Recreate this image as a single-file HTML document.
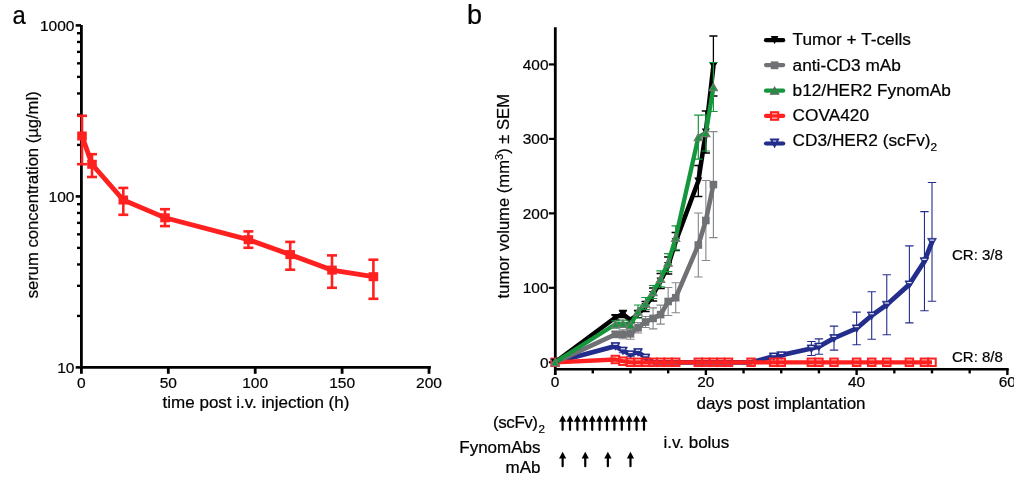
<!DOCTYPE html>
<html><head><meta charset="utf-8"><style>
html,body{margin:0;padding:0;background:#fff;}
body{width:1024px;height:479px;overflow:hidden;font-family:"Liberation Sans",sans-serif;}
svg{display:block;will-change:transform;}
.clip{position:absolute;left:1014.3px;top:360px;width:20px;height:40px;background:#fff;}
</style></head><body>
<svg width="1024" height="479" viewBox="0 0 1024 479"><text transform="translate(12.6,24.1) scale(0.9,1)" font-size="26.5" font-family="Liberation Sans, sans-serif" stroke="#000" stroke-width="0.22">a</text>
<line x1="81.4" y1="25" x2="81.4" y2="368.8" stroke="#000" stroke-width="2.8"/>
<line x1="80" y1="367.4" x2="430.9" y2="367.4" stroke="#000" stroke-width="2.8"/>
<line x1="75.7" y1="367.40" x2="81" y2="367.40" stroke="#000" stroke-width="2.6"/>
<line x1="75.7" y1="196.40" x2="81" y2="196.40" stroke="#000" stroke-width="2.6"/>
<line x1="75.7" y1="25.40" x2="81" y2="25.40" stroke="#000" stroke-width="2.6"/>
<line x1="77" y1="315.92" x2="81" y2="315.92" stroke="#000" stroke-width="2.4"/>
<line x1="77" y1="285.81" x2="81" y2="285.81" stroke="#000" stroke-width="2.4"/>
<line x1="77" y1="264.45" x2="81" y2="264.45" stroke="#000" stroke-width="2.4"/>
<line x1="77" y1="247.88" x2="81" y2="247.88" stroke="#000" stroke-width="2.4"/>
<line x1="77" y1="234.34" x2="81" y2="234.34" stroke="#000" stroke-width="2.4"/>
<line x1="77" y1="222.89" x2="81" y2="222.89" stroke="#000" stroke-width="2.4"/>
<line x1="77" y1="212.97" x2="81" y2="212.97" stroke="#000" stroke-width="2.4"/>
<line x1="77" y1="204.22" x2="81" y2="204.22" stroke="#000" stroke-width="2.4"/>
<line x1="77" y1="144.92" x2="81" y2="144.92" stroke="#000" stroke-width="2.4"/>
<line x1="77" y1="114.81" x2="81" y2="114.81" stroke="#000" stroke-width="2.4"/>
<line x1="77" y1="93.45" x2="81" y2="93.45" stroke="#000" stroke-width="2.4"/>
<line x1="77" y1="76.88" x2="81" y2="76.88" stroke="#000" stroke-width="2.4"/>
<line x1="77" y1="63.34" x2="81" y2="63.34" stroke="#000" stroke-width="2.4"/>
<line x1="77" y1="51.89" x2="81" y2="51.89" stroke="#000" stroke-width="2.4"/>
<line x1="77" y1="41.97" x2="81" y2="41.97" stroke="#000" stroke-width="2.4"/>
<line x1="77" y1="33.22" x2="81" y2="33.22" stroke="#000" stroke-width="2.4"/>
<text x="74.4" y="30.90" font-size="15.5" text-anchor="end" font-family="Liberation Sans, sans-serif" stroke="#000" stroke-width="0.22">1000</text>
<text x="74.4" y="201.90" font-size="15.5" text-anchor="end" font-family="Liberation Sans, sans-serif" stroke="#000" stroke-width="0.22">100</text>
<text x="74.4" y="372.90" font-size="15.5" text-anchor="end" font-family="Liberation Sans, sans-serif" stroke="#000" stroke-width="0.22">10</text>
<line x1="81.40" y1="366" x2="81.40" y2="373.8" stroke="#000" stroke-width="2.8"/>
<text x="81.40" y="388.1" font-size="15.5" text-anchor="middle" font-family="Liberation Sans, sans-serif" stroke="#000" stroke-width="0.22">0</text>
<line x1="168.30" y1="366" x2="168.30" y2="373.8" stroke="#000" stroke-width="2.8"/>
<text x="168.30" y="388.1" font-size="15.5" text-anchor="middle" font-family="Liberation Sans, sans-serif" stroke="#000" stroke-width="0.22">50</text>
<line x1="255.20" y1="366" x2="255.20" y2="373.8" stroke="#000" stroke-width="2.8"/>
<text x="255.20" y="388.1" font-size="15.5" text-anchor="middle" font-family="Liberation Sans, sans-serif" stroke="#000" stroke-width="0.22">100</text>
<line x1="342.10" y1="366" x2="342.10" y2="373.8" stroke="#000" stroke-width="2.8"/>
<text x="342.10" y="388.1" font-size="15.5" text-anchor="middle" font-family="Liberation Sans, sans-serif" stroke="#000" stroke-width="0.22">150</text>
<line x1="429.00" y1="366" x2="429.00" y2="373.8" stroke="#000" stroke-width="2.8"/>
<text x="429.00" y="388.1" font-size="15.5" text-anchor="middle" font-family="Liberation Sans, sans-serif" stroke="#000" stroke-width="0.22">200</text>
<text x="256" y="408.0" font-size="17" text-anchor="middle" font-family="Liberation Sans, sans-serif" stroke="#000" stroke-width="0.22">time post i.v. injection (h)</text>
<text transform="translate(37.6,194.8) rotate(-90)" font-size="16.6" text-anchor="middle" font-family="Liberation Sans, sans-serif" stroke="#000" stroke-width="0.22">serum concentration (µg/ml)</text>
<line x1="82" y1="115.8" x2="82" y2="164.2" stroke="#ff2020" stroke-width="2.6"/>
<line x1="77" y1="115.8" x2="87" y2="115.8" stroke="#ff2020" stroke-width="2.6"/>
<line x1="77" y1="164.2" x2="87" y2="164.2" stroke="#ff2020" stroke-width="2.6"/>
<line x1="92" y1="154.2" x2="92" y2="177" stroke="#ff2020" stroke-width="2.6"/>
<line x1="87" y1="154.2" x2="97" y2="154.2" stroke="#ff2020" stroke-width="2.6"/>
<line x1="87" y1="177" x2="97" y2="177" stroke="#ff2020" stroke-width="2.6"/>
<line x1="123.3" y1="187.9" x2="123.3" y2="214.8" stroke="#ff2020" stroke-width="2.6"/>
<line x1="118.3" y1="187.9" x2="128.3" y2="187.9" stroke="#ff2020" stroke-width="2.6"/>
<line x1="118.3" y1="214.8" x2="128.3" y2="214.8" stroke="#ff2020" stroke-width="2.6"/>
<line x1="165" y1="209.2" x2="165" y2="226.1" stroke="#ff2020" stroke-width="2.6"/>
<line x1="160" y1="209.2" x2="170" y2="209.2" stroke="#ff2020" stroke-width="2.6"/>
<line x1="160" y1="226.1" x2="170" y2="226.1" stroke="#ff2020" stroke-width="2.6"/>
<line x1="248.4" y1="231.4" x2="248.4" y2="247.8" stroke="#ff2020" stroke-width="2.6"/>
<line x1="243.4" y1="231.4" x2="253.4" y2="231.4" stroke="#ff2020" stroke-width="2.6"/>
<line x1="243.4" y1="247.8" x2="253.4" y2="247.8" stroke="#ff2020" stroke-width="2.6"/>
<line x1="290.2" y1="241.9" x2="290.2" y2="269.7" stroke="#ff2020" stroke-width="2.6"/>
<line x1="285.2" y1="241.9" x2="295.2" y2="241.9" stroke="#ff2020" stroke-width="2.6"/>
<line x1="285.2" y1="269.7" x2="295.2" y2="269.7" stroke="#ff2020" stroke-width="2.6"/>
<line x1="332" y1="255.4" x2="332" y2="287.8" stroke="#ff2020" stroke-width="2.6"/>
<line x1="327" y1="255.4" x2="337" y2="255.4" stroke="#ff2020" stroke-width="2.6"/>
<line x1="327" y1="287.8" x2="337" y2="287.8" stroke="#ff2020" stroke-width="2.6"/>
<line x1="373.4" y1="259.7" x2="373.4" y2="298.8" stroke="#ff2020" stroke-width="2.6"/>
<line x1="368.4" y1="259.7" x2="378.4" y2="259.7" stroke="#ff2020" stroke-width="2.6"/>
<line x1="368.4" y1="298.8" x2="378.4" y2="298.8" stroke="#ff2020" stroke-width="2.6"/>
<polyline points="82,136 92,164.3 123.3,200 165,217.8 248.4,239.7 290.2,254.6 332,270.1 373.4,276.7" fill="none" stroke="#ff2020" stroke-width="4.9" stroke-linejoin="miter"/>
<rect x="77.2" y="131.5" width="9.6" height="9" fill="#ff2020"/>
<rect x="87.2" y="159.8" width="9.6" height="9" fill="#ff2020"/>
<rect x="118.5" y="195.5" width="9.6" height="9" fill="#ff2020"/>
<rect x="160.2" y="213.3" width="9.6" height="9" fill="#ff2020"/>
<rect x="243.6" y="235.2" width="9.6" height="9" fill="#ff2020"/>
<rect x="285.4" y="250.1" width="9.6" height="9" fill="#ff2020"/>
<rect x="327.2" y="265.6" width="9.6" height="9" fill="#ff2020"/>
<rect x="368.59999999999997" y="272.2" width="9.6" height="9" fill="#ff2020"/>
<text x="467" y="24.2" font-size="27" font-family="Liberation Sans, sans-serif" stroke="#000" stroke-width="0.22">b</text>
<line x1="555.3" y1="27.3" x2="555.3" y2="375" stroke="#000" stroke-width="2.8"/>
<line x1="554" y1="369.3" x2="1008.7" y2="369.3" stroke="#000" stroke-width="2.4"/>
<line x1="548.8" y1="362.30" x2="555" y2="362.30" stroke="#000" stroke-width="2.2"/>
<text x="548.5" y="367.80" font-size="15.4" text-anchor="end" font-family="Liberation Sans, sans-serif" stroke="#000" stroke-width="0.22">0</text>
<line x1="548.8" y1="287.83" x2="555" y2="287.83" stroke="#000" stroke-width="2.2"/>
<text x="548.5" y="293.33" font-size="15.4" text-anchor="end" font-family="Liberation Sans, sans-serif" stroke="#000" stroke-width="0.22">100</text>
<line x1="548.8" y1="213.36" x2="555" y2="213.36" stroke="#000" stroke-width="2.2"/>
<text x="548.5" y="218.86" font-size="15.4" text-anchor="end" font-family="Liberation Sans, sans-serif" stroke="#000" stroke-width="0.22">200</text>
<line x1="548.8" y1="138.89" x2="555" y2="138.89" stroke="#000" stroke-width="2.2"/>
<text x="548.5" y="144.39" font-size="15.4" text-anchor="end" font-family="Liberation Sans, sans-serif" stroke="#000" stroke-width="0.22">300</text>
<line x1="548.8" y1="64.42" x2="555" y2="64.42" stroke="#000" stroke-width="2.2"/>
<text x="548.5" y="69.92" font-size="15.4" text-anchor="end" font-family="Liberation Sans, sans-serif" stroke="#000" stroke-width="0.22">400</text>
<line x1="592.79" y1="369" x2="592.79" y2="373.4" stroke="#000" stroke-width="2.4"/>
<line x1="630.48" y1="369" x2="630.48" y2="373.4" stroke="#000" stroke-width="2.4"/>
<line x1="668.17" y1="369" x2="668.17" y2="373.4" stroke="#000" stroke-width="2.4"/>
<line x1="705.86" y1="369" x2="705.86" y2="375" stroke="#000" stroke-width="2.4"/>
<text x="705.86" y="387.1" font-size="15.4" text-anchor="middle" font-family="Liberation Sans, sans-serif" stroke="#000" stroke-width="0.22">20</text>
<line x1="743.55" y1="369" x2="743.55" y2="373.4" stroke="#000" stroke-width="2.4"/>
<line x1="781.24" y1="369" x2="781.24" y2="373.4" stroke="#000" stroke-width="2.4"/>
<line x1="818.93" y1="369" x2="818.93" y2="373.4" stroke="#000" stroke-width="2.4"/>
<line x1="856.62" y1="369" x2="856.62" y2="375" stroke="#000" stroke-width="2.4"/>
<text x="856.62" y="387.1" font-size="15.4" text-anchor="middle" font-family="Liberation Sans, sans-serif" stroke="#000" stroke-width="0.22">40</text>
<line x1="894.31" y1="369" x2="894.31" y2="373.4" stroke="#000" stroke-width="2.4"/>
<line x1="932.00" y1="369" x2="932.00" y2="373.4" stroke="#000" stroke-width="2.4"/>
<line x1="969.69" y1="369" x2="969.69" y2="373.4" stroke="#000" stroke-width="2.4"/>
<line x1="1007.38" y1="369" x2="1007.38" y2="375" stroke="#000" stroke-width="2.4"/>
<text x="1007.38" y="387.1" font-size="15.4" text-anchor="middle" font-family="Liberation Sans, sans-serif" stroke="#000" stroke-width="0.22">60</text>
<text x="555.10" y="387.1" font-size="15.4" text-anchor="middle" font-family="Liberation Sans, sans-serif" stroke="#000" stroke-width="0.22">0</text>
<text x="781" y="408.9" font-size="17" text-anchor="middle" font-family="Liberation Sans, sans-serif" stroke="#000" stroke-width="0.22">days post implantation</text>
<text transform="translate(509.3,196.2) rotate(-90)" font-size="16.62" text-anchor="middle" font-family="Liberation Sans, sans-serif" stroke="#000" stroke-width="0.22">tumor volume (mm<tspan font-size="11" dy="-6">3</tspan><tspan dy="6">) ± SEM</tspan></text>
<text x="952" y="259.8" font-size="15" font-family="Liberation Sans, sans-serif" stroke="#000" stroke-width="0.22">CR: 3/8</text>
<text x="952" y="361.7" font-size="15" font-family="Liberation Sans, sans-serif" stroke="#000" stroke-width="0.22">CR: 8/8</text>
<path d="M615.40,343.90V348.30M611.20,343.90h8.4M611.20,348.30h8.4" stroke="#232d8c" stroke-width="1.1" fill="none"/>
<path d="M622.94,348.40V352.80M618.74,348.40h8.4M618.74,352.80h8.4" stroke="#232d8c" stroke-width="1.1" fill="none"/>
<path d="M630.48,352.30V356.30M626.28,352.30h8.4M626.28,356.30h8.4" stroke="#232d8c" stroke-width="1.1" fill="none"/>
<path d="M638.02,349.90V354.30M633.82,349.90h8.4M633.82,354.30h8.4" stroke="#232d8c" stroke-width="1.1" fill="none"/>
<path d="M645.56,356.00V359.00M641.36,356.00h8.4M641.36,359.00h8.4" stroke="#232d8c" stroke-width="1.1" fill="none"/>
<path d="M773.70,354.90V357.90M769.50,354.90h8.4M769.50,357.90h8.4" stroke="#232d8c" stroke-width="1.1" fill="none"/>
<path d="M781.24,353.70V356.70M777.04,353.70h8.4M777.04,356.70h8.4" stroke="#232d8c" stroke-width="1.1" fill="none"/>
<path d="M811.39,341.50V355.50M807.19,341.50h8.4M807.19,355.50h8.4" stroke="#232d8c" stroke-width="1.1" fill="none"/>
<path d="M818.93,338.90V354.30M814.73,338.90h8.4M814.73,354.30h8.4" stroke="#232d8c" stroke-width="1.1" fill="none"/>
<path d="M834.01,326.10V350.10M829.81,326.10h8.4M829.81,350.10h8.4" stroke="#232d8c" stroke-width="1.1" fill="none"/>
<path d="M856.62,312.10V344.70M852.42,312.10h8.4M852.42,344.70h8.4" stroke="#232d8c" stroke-width="1.1" fill="none"/>
<path d="M871.70,291.80V339.20M867.50,291.80h8.4M867.50,339.20h8.4" stroke="#232d8c" stroke-width="1.1" fill="none"/>
<path d="M886.77,274.80V334.80M882.57,274.80h8.4M882.57,334.80h8.4" stroke="#232d8c" stroke-width="1.1" fill="none"/>
<path d="M909.39,245.90V322.90M905.19,245.90h8.4M905.19,322.90h8.4" stroke="#232d8c" stroke-width="1.1" fill="none"/>
<path d="M924.46,211.60V310.80M920.26,211.60h8.4M920.26,310.80h8.4" stroke="#232d8c" stroke-width="1.1" fill="none"/>
<path d="M932.00,182.50V301.30M927.80,182.50h8.4M927.80,301.30h8.4" stroke="#232d8c" stroke-width="1.1" fill="none"/>
<polyline points="555.10,362.30 615.40,346.10 622.94,350.60 630.48,354.30 638.02,352.10 645.56,357.50 653.09,362.30 660.63,362.30 668.17,362.30 675.71,362.30 698.32,362.30 705.86,362.30 713.40,362.30 720.94,362.30 728.47,362.30 751.09,362.30 773.70,356.40 781.24,355.20 811.39,348.50 818.93,346.60 834.01,338.10 856.62,328.40 871.70,315.50 886.77,304.80 909.39,284.40 924.46,261.20 932.00,241.90" fill="none" stroke="#232d8c" stroke-width="4.8" stroke-linejoin="round"/>
<path d="M550.70,358.79H559.50L555.10,366.41Z" fill="#232d8c" stroke="#232d8c" stroke-width="0.8"/>
<rect x="552.90" y="359.90" width="4.4" height="1.2" fill="#e8e8f4"/>
<path d="M611.00,342.59H619.80L615.40,350.21Z" fill="#232d8c" stroke="#232d8c" stroke-width="0.8"/>
<rect x="613.20" y="343.70" width="4.4" height="1.2" fill="#e8e8f4"/>
<path d="M618.54,347.09H627.34L622.94,354.71Z" fill="#232d8c" stroke="#232d8c" stroke-width="0.8"/>
<rect x="620.74" y="348.20" width="4.4" height="1.2" fill="#e8e8f4"/>
<path d="M626.08,350.79H634.88L630.48,358.41Z" fill="#232d8c" stroke="#232d8c" stroke-width="0.8"/>
<rect x="628.28" y="351.90" width="4.4" height="1.2" fill="#e8e8f4"/>
<path d="M633.62,348.59H642.42L638.02,356.21Z" fill="#232d8c" stroke="#232d8c" stroke-width="0.8"/>
<rect x="635.82" y="349.70" width="4.4" height="1.2" fill="#e8e8f4"/>
<path d="M641.16,353.99H649.96L645.56,361.61Z" fill="#232d8c" stroke="#232d8c" stroke-width="0.8"/>
<rect x="643.36" y="355.10" width="4.4" height="1.2" fill="#e8e8f4"/>
<path d="M769.30,352.89H778.10L773.70,360.51Z" fill="#232d8c" stroke="#232d8c" stroke-width="0.8"/>
<rect x="771.50" y="354.00" width="4.4" height="1.2" fill="#e8e8f4"/>
<path d="M776.84,351.69H785.64L781.24,359.31Z" fill="#232d8c" stroke="#232d8c" stroke-width="0.8"/>
<rect x="779.04" y="352.80" width="4.4" height="1.2" fill="#e8e8f4"/>
<path d="M806.99,344.99H815.79L811.39,352.61Z" fill="#232d8c" stroke="#232d8c" stroke-width="0.8"/>
<rect x="809.19" y="346.10" width="4.4" height="1.2" fill="#e8e8f4"/>
<path d="M814.53,343.09H823.33L818.93,350.71Z" fill="#232d8c" stroke="#232d8c" stroke-width="0.8"/>
<rect x="816.73" y="344.20" width="4.4" height="1.2" fill="#e8e8f4"/>
<path d="M829.61,334.59H838.41L834.01,342.21Z" fill="#232d8c" stroke="#232d8c" stroke-width="0.8"/>
<rect x="831.81" y="335.70" width="4.4" height="1.2" fill="#e8e8f4"/>
<path d="M852.22,324.89H861.02L856.62,332.51Z" fill="#232d8c" stroke="#232d8c" stroke-width="0.8"/>
<rect x="854.42" y="326.00" width="4.4" height="1.2" fill="#e8e8f4"/>
<path d="M867.30,311.99H876.10L871.70,319.61Z" fill="#232d8c" stroke="#232d8c" stroke-width="0.8"/>
<rect x="869.50" y="313.10" width="4.4" height="1.2" fill="#e8e8f4"/>
<path d="M882.37,301.29H891.17L886.77,308.91Z" fill="#232d8c" stroke="#232d8c" stroke-width="0.8"/>
<rect x="884.57" y="302.40" width="4.4" height="1.2" fill="#e8e8f4"/>
<path d="M904.99,280.89H913.79L909.39,288.51Z" fill="#232d8c" stroke="#232d8c" stroke-width="0.8"/>
<rect x="907.19" y="282.00" width="4.4" height="1.2" fill="#e8e8f4"/>
<path d="M920.06,257.69H928.86L924.46,265.31Z" fill="#232d8c" stroke="#232d8c" stroke-width="0.8"/>
<rect x="922.26" y="258.80" width="4.4" height="1.2" fill="#e8e8f4"/>
<path d="M927.60,238.39H936.40L932.00,246.01Z" fill="#232d8c" stroke="#232d8c" stroke-width="0.8"/>
<rect x="929.80" y="239.50" width="4.4" height="1.2" fill="#e8e8f4"/>
<polyline points="555.10,362.30 615.40,359.50 622.94,361.20 630.48,362.30 638.02,362.30 645.56,362.30 653.09,362.30 660.63,362.30 668.17,362.30 675.71,362.30 698.32,362.30 705.86,362.30 713.40,362.30 720.94,362.30 728.47,362.30 751.09,362.30 773.70,362.30 781.24,362.30 811.39,362.30 818.93,362.30 834.01,362.30 856.62,362.30 871.70,362.30 886.77,362.30 909.39,362.30 924.46,362.30 932.00,362.30" fill="none" stroke="#ff2020" stroke-width="4.3" stroke-linejoin="round"/>
<rect x="551.35" y="358.55" width="7.5" height="7.5" fill="none" stroke="#ff2020" stroke-width="2"/>
<rect x="611.65" y="355.75" width="7.5" height="7.5" fill="none" stroke="#ff2020" stroke-width="2"/>
<rect x="619.19" y="357.45" width="7.5" height="7.5" fill="none" stroke="#ff2020" stroke-width="2"/>
<rect x="626.73" y="358.55" width="7.5" height="7.5" fill="none" stroke="#ff2020" stroke-width="2"/>
<rect x="634.27" y="358.55" width="7.5" height="7.5" fill="none" stroke="#ff2020" stroke-width="2"/>
<rect x="641.81" y="358.55" width="7.5" height="7.5" fill="none" stroke="#ff2020" stroke-width="2"/>
<rect x="649.34" y="358.55" width="7.5" height="7.5" fill="none" stroke="#ff2020" stroke-width="2"/>
<rect x="656.88" y="358.55" width="7.5" height="7.5" fill="none" stroke="#ff2020" stroke-width="2"/>
<rect x="664.42" y="358.55" width="7.5" height="7.5" fill="none" stroke="#ff2020" stroke-width="2"/>
<rect x="671.96" y="358.55" width="7.5" height="7.5" fill="none" stroke="#ff2020" stroke-width="2"/>
<rect x="694.57" y="358.55" width="7.5" height="7.5" fill="none" stroke="#ff2020" stroke-width="2"/>
<rect x="702.11" y="358.55" width="7.5" height="7.5" fill="none" stroke="#ff2020" stroke-width="2"/>
<rect x="709.65" y="358.55" width="7.5" height="7.5" fill="none" stroke="#ff2020" stroke-width="2"/>
<rect x="717.19" y="358.55" width="7.5" height="7.5" fill="none" stroke="#ff2020" stroke-width="2"/>
<rect x="724.72" y="358.55" width="7.5" height="7.5" fill="none" stroke="#ff2020" stroke-width="2"/>
<rect x="747.34" y="358.55" width="7.5" height="7.5" fill="none" stroke="#ff2020" stroke-width="2"/>
<rect x="769.95" y="358.55" width="7.5" height="7.5" fill="none" stroke="#ff2020" stroke-width="2"/>
<rect x="777.49" y="358.55" width="7.5" height="7.5" fill="none" stroke="#ff2020" stroke-width="2"/>
<rect x="807.64" y="358.55" width="7.5" height="7.5" fill="none" stroke="#ff2020" stroke-width="2"/>
<rect x="815.18" y="358.55" width="7.5" height="7.5" fill="none" stroke="#ff2020" stroke-width="2"/>
<rect x="830.26" y="358.55" width="7.5" height="7.5" fill="none" stroke="#ff2020" stroke-width="2"/>
<rect x="852.87" y="358.55" width="7.5" height="7.5" fill="none" stroke="#ff2020" stroke-width="2"/>
<rect x="867.95" y="358.55" width="7.5" height="7.5" fill="none" stroke="#ff2020" stroke-width="2"/>
<rect x="883.02" y="358.55" width="7.5" height="7.5" fill="none" stroke="#ff2020" stroke-width="2"/>
<rect x="905.64" y="358.55" width="7.5" height="7.5" fill="none" stroke="#ff2020" stroke-width="2"/>
<rect x="920.71" y="358.55" width="7.5" height="7.5" fill="none" stroke="#ff2020" stroke-width="2"/>
<rect x="928.25" y="358.55" width="7.5" height="7.5" fill="none" stroke="#ff2020" stroke-width="2"/>
<path d="M615.40,331.40V337.40M611.20,331.40h8.4M611.20,337.40h8.4" stroke="#858689" stroke-width="1.1" fill="none"/>
<path d="M622.94,329.70V338.70M618.74,329.70h8.4M618.74,338.70h8.4" stroke="#858689" stroke-width="1.1" fill="none"/>
<path d="M630.48,328.30V339.30M626.28,328.30h8.4M626.28,339.30h8.4" stroke="#858689" stroke-width="1.1" fill="none"/>
<path d="M638.02,322.60V333.00M633.82,322.60h8.4M633.82,333.00h8.4" stroke="#858689" stroke-width="1.1" fill="none"/>
<path d="M645.56,316.50V327.50M641.36,316.50h8.4M641.36,327.50h8.4" stroke="#858689" stroke-width="1.1" fill="none"/>
<path d="M653.09,307.90V328.90M648.89,307.90h8.4M648.89,328.90h8.4" stroke="#858689" stroke-width="1.1" fill="none"/>
<path d="M660.63,305.10V324.10M656.43,305.10h8.4M656.43,324.10h8.4" stroke="#858689" stroke-width="1.1" fill="none"/>
<path d="M668.17,287.50V315.50M663.97,287.50h8.4M663.97,315.50h8.4" stroke="#858689" stroke-width="1.1" fill="none"/>
<path d="M675.71,282.70V312.70M671.51,282.70h8.4M671.51,312.70h8.4" stroke="#858689" stroke-width="1.1" fill="none"/>
<path d="M698.32,213.00V277.00M694.12,213.00h8.4M694.12,277.00h8.4" stroke="#858689" stroke-width="1.1" fill="none"/>
<path d="M705.86,180.50V260.50M701.66,180.50h8.4M701.66,260.50h8.4" stroke="#858689" stroke-width="1.1" fill="none"/>
<path d="M713.40,131.60V237.60M709.20,131.60h8.4M709.20,237.60h8.4" stroke="#858689" stroke-width="1.1" fill="none"/>
<polyline points="555.10,362.30 615.40,334.40 622.94,334.20 630.48,333.80 638.02,327.80 645.56,322.00 653.09,318.40 660.63,314.60 668.17,301.50 675.71,297.70 698.32,245.00 705.86,220.50 713.40,184.60" fill="none" stroke="#707174" stroke-width="4.6" stroke-linejoin="round"/>
<rect x="551.30" y="358.50" width="7.6" height="7.6" fill="#707174" stroke="none" stroke-width="0"/>
<rect x="611.60" y="330.60" width="7.6" height="7.6" fill="#707174" stroke="none" stroke-width="0"/>
<rect x="619.14" y="330.40" width="7.6" height="7.6" fill="#707174" stroke="none" stroke-width="0"/>
<rect x="626.68" y="330.00" width="7.6" height="7.6" fill="#707174" stroke="none" stroke-width="0"/>
<rect x="634.22" y="324.00" width="7.6" height="7.6" fill="#707174" stroke="none" stroke-width="0"/>
<rect x="641.76" y="318.20" width="7.6" height="7.6" fill="#707174" stroke="none" stroke-width="0"/>
<rect x="649.29" y="314.60" width="7.6" height="7.6" fill="#707174" stroke="none" stroke-width="0"/>
<rect x="656.83" y="310.80" width="7.6" height="7.6" fill="#707174" stroke="none" stroke-width="0"/>
<rect x="664.37" y="297.70" width="7.6" height="7.6" fill="#707174" stroke="none" stroke-width="0"/>
<rect x="671.91" y="293.90" width="7.6" height="7.6" fill="#707174" stroke="none" stroke-width="0"/>
<rect x="694.52" y="241.20" width="7.6" height="7.6" fill="#707174" stroke="none" stroke-width="0"/>
<rect x="702.06" y="216.70" width="7.6" height="7.6" fill="#707174" stroke="none" stroke-width="0"/>
<rect x="709.60" y="180.80" width="7.6" height="7.6" fill="#707174" stroke="none" stroke-width="0"/>
<path d="M615.40,315.00V320.00M611.30,315.00h8.2M611.30,320.00h8.2" stroke="#000" stroke-width="1.3" fill="none"/>
<path d="M622.94,310.50V317.50M618.84,310.50h8.2M618.84,317.50h8.2" stroke="#000" stroke-width="1.3" fill="none"/>
<path d="M630.48,317.80V322.80M626.38,317.80h8.2M626.38,322.80h8.2" stroke="#000" stroke-width="1.3" fill="none"/>
<path d="M638.02,310.40V317.60M633.92,310.40h8.2M633.92,317.60h8.2" stroke="#000" stroke-width="1.3" fill="none"/>
<path d="M645.56,301.50V311.50M641.46,301.50h8.2M641.46,311.50h8.2" stroke="#000" stroke-width="1.3" fill="none"/>
<path d="M653.09,288.00V301.00M648.99,288.00h8.2M648.99,301.00h8.2" stroke="#000" stroke-width="1.3" fill="none"/>
<path d="M660.63,273.50V288.50M656.53,273.50h8.2M656.53,288.50h8.2" stroke="#000" stroke-width="1.3" fill="none"/>
<path d="M668.17,257.00V274.00M664.07,257.00h8.2M664.07,274.00h8.2" stroke="#000" stroke-width="1.3" fill="none"/>
<path d="M675.71,232.50V250.50M671.61,232.50h8.2M671.61,250.50h8.2" stroke="#000" stroke-width="1.3" fill="none"/>
<path d="M698.32,165.50V196.50M694.22,165.50h8.2M694.22,196.50h8.2" stroke="#000" stroke-width="1.3" fill="none"/>
<path d="M705.86,111.00V153.00M701.76,111.00h8.2M701.76,153.00h8.2" stroke="#000" stroke-width="1.3" fill="none"/>
<path d="M713.40,36.00V96.00M709.30,36.00h8.2M709.30,96.00h8.2" stroke="#000" stroke-width="1.3" fill="none"/>
<polyline points="555.10,362.30 615.40,317.50 622.94,314.00 630.48,320.30 638.02,314.00 645.56,306.50 653.09,294.50 660.63,281.00 668.17,265.50 675.71,241.50 698.32,181.00 705.86,132.00 713.40,66.00" fill="none" stroke="#000" stroke-width="4.6" stroke-linejoin="round"/>
<path d="M551.00,358.75H559.20L555.10,365.85Z" fill="#000" stroke="none" stroke-width="0"/>
<path d="M611.30,313.95H619.50L615.40,321.05Z" fill="#000" stroke="none" stroke-width="0"/>
<path d="M618.84,310.45H627.04L622.94,317.55Z" fill="#000" stroke="none" stroke-width="0"/>
<path d="M626.38,316.75H634.58L630.48,323.85Z" fill="#000" stroke="none" stroke-width="0"/>
<path d="M633.92,310.45H642.12L638.02,317.55Z" fill="#000" stroke="none" stroke-width="0"/>
<path d="M641.46,302.95H649.66L645.56,310.05Z" fill="#000" stroke="none" stroke-width="0"/>
<path d="M648.99,290.95H657.19L653.09,298.05Z" fill="#000" stroke="none" stroke-width="0"/>
<path d="M656.53,277.45H664.73L660.63,284.55Z" fill="#000" stroke="none" stroke-width="0"/>
<path d="M664.07,261.95H672.27L668.17,269.05Z" fill="#000" stroke="none" stroke-width="0"/>
<path d="M671.61,237.95H679.81L675.71,245.05Z" fill="#000" stroke="none" stroke-width="0"/>
<path d="M694.22,177.45H702.42L698.32,184.55Z" fill="#000" stroke="none" stroke-width="0"/>
<path d="M701.76,128.45H709.96L705.86,135.55Z" fill="#000" stroke="none" stroke-width="0"/>
<path d="M709.30,62.45H717.50L713.40,69.55Z" fill="#000" stroke="none" stroke-width="0"/>
<path d="M615.40,320.80V327.80M611.20,320.80h8.4M611.20,327.80h8.4" stroke="#15963c" stroke-width="1.2" fill="none"/>
<path d="M622.94,320.10V327.10M618.74,320.10h8.4M618.74,327.10h8.4" stroke="#15963c" stroke-width="1.2" fill="none"/>
<path d="M630.48,321.00V329.00M626.28,321.00h8.4M626.28,329.00h8.4" stroke="#15963c" stroke-width="1.2" fill="none"/>
<path d="M638.02,305.00V318.00M633.82,305.00h8.4M633.82,318.00h8.4" stroke="#15963c" stroke-width="1.2" fill="none"/>
<path d="M645.56,297.50V309.50M641.36,297.50h8.4M641.36,309.50h8.4" stroke="#15963c" stroke-width="1.2" fill="none"/>
<path d="M653.09,285.50V298.50M648.89,285.50h8.4M648.89,298.50h8.4" stroke="#15963c" stroke-width="1.2" fill="none"/>
<path d="M660.63,270.80V286.80M656.43,270.80h8.4M656.43,286.80h8.4" stroke="#15963c" stroke-width="1.2" fill="none"/>
<path d="M668.17,253.70V271.70M663.97,253.70h8.4M663.97,271.70h8.4" stroke="#15963c" stroke-width="1.2" fill="none"/>
<path d="M675.71,225.80V249.80M671.51,225.80h8.4M671.51,249.80h8.4" stroke="#15963c" stroke-width="1.2" fill="none"/>
<path d="M698.32,115.20V159.20M694.12,115.20h8.4M694.12,159.20h8.4" stroke="#15963c" stroke-width="1.2" fill="none"/>
<path d="M705.86,115.00V151.00M701.66,115.00h8.4M701.66,151.00h8.4" stroke="#15963c" stroke-width="1.2" fill="none"/>
<path d="M713.40,62.50V111.50M709.20,62.50h8.4M709.20,111.50h8.4" stroke="#15963c" stroke-width="1.2" fill="none"/>
<polyline points="555.10,362.30 615.40,324.30 622.94,323.60 630.48,325.00 638.02,311.50 645.56,303.50 653.09,292.00 660.63,278.80 668.17,262.70 675.71,237.80 698.32,137.20 705.86,133.00 713.40,87.00" fill="none" stroke="#15963c" stroke-width="4.3" stroke-linejoin="round"/>
<path d="M551.00,365.85H559.20L555.10,358.75Z" fill="#15963c" stroke="#737773" stroke-width="1.15"/>
<path d="M611.30,327.85H619.50L615.40,320.75Z" fill="#15963c" stroke="#737773" stroke-width="1.15"/>
<path d="M618.84,327.15H627.04L622.94,320.05Z" fill="#15963c" stroke="#737773" stroke-width="1.15"/>
<path d="M626.38,328.55H634.58L630.48,321.45Z" fill="#15963c" stroke="#737773" stroke-width="1.15"/>
<path d="M633.92,315.05H642.12L638.02,307.95Z" fill="#15963c" stroke="#737773" stroke-width="1.15"/>
<path d="M641.46,307.05H649.66L645.56,299.95Z" fill="#15963c" stroke="#737773" stroke-width="1.15"/>
<path d="M648.99,295.55H657.19L653.09,288.45Z" fill="#15963c" stroke="#737773" stroke-width="1.15"/>
<path d="M656.53,282.35H664.73L660.63,275.25Z" fill="#15963c" stroke="#737773" stroke-width="1.15"/>
<path d="M664.07,266.25H672.27L668.17,259.15Z" fill="#15963c" stroke="#737773" stroke-width="1.15"/>
<path d="M671.61,241.35H679.81L675.71,234.25Z" fill="#15963c" stroke="#737773" stroke-width="1.15"/>
<path d="M694.22,140.75H702.42L698.32,133.65Z" fill="#15963c" stroke="#737773" stroke-width="1.15"/>
<path d="M701.76,136.55H709.96L705.86,129.45Z" fill="#15963c" stroke="#737773" stroke-width="1.15"/>
<path d="M709.30,90.55H717.50L713.40,83.45Z" fill="#15963c" stroke="#737773" stroke-width="1.15"/>
<line x1="766" y1="40.2" x2="783.2" y2="40.2" stroke="#000" stroke-width="4.2" stroke-linecap="round"/>
<path d="M770.8,36.1H778.4L774.6,44.3Z" fill="#000"/>
<text x="792.6" y="45.4" font-size="17.25" font-family="Liberation Sans, sans-serif" stroke="#000" stroke-width="0.22">Tumor + T-cells</text>
<line x1="766" y1="65.1" x2="783.2" y2="65.1" stroke="#707174" stroke-width="4.2" stroke-linecap="round"/>
<rect x="770.8" y="61.4" width="7.6" height="7.8" fill="#707174"/>
<text x="792.6" y="70.6" font-size="17.25" font-family="Liberation Sans, sans-serif" stroke="#000" stroke-width="0.22">anti-CD3 mAb</text>
<line x1="766" y1="90.7" x2="783.2" y2="90.7" stroke="#15963c" stroke-width="4.2" stroke-linecap="round"/>
<path d="M770.6,94.2H778.6L774.6,87.2Z" fill="#15963c" stroke="#5c6a60" stroke-width="1.3" stroke-linejoin="miter"/>
<text x="792.6" y="95.7" font-size="17.25" font-family="Liberation Sans, sans-serif" stroke="#000" stroke-width="0.22">b12/HER2 FynomAb</text>
<line x1="766" y1="115.9" x2="783.2" y2="115.9" stroke="#ff2020" stroke-width="4.2" stroke-linecap="round"/>
<rect x="771" y="112.2" width="7.2" height="7.6" fill="#ffb0b0" stroke="#ff2020" stroke-width="2"/>
<line x1="770" y1="115.9" x2="779" y2="115.9" stroke="#ff2020" stroke-width="3"/>
<text x="792.6" y="120.9" font-size="17.25" font-family="Liberation Sans, sans-serif" stroke="#000" stroke-width="0.22">COVA420</text>
<line x1="766" y1="143.5" x2="783.2" y2="143.5" stroke="#232d8c" stroke-width="4.2" stroke-linecap="round"/>
<path d="M771.1,139.4H778.1L774.6,146.4Z" fill="#a0a4d0" stroke="#232d8c" stroke-width="1.9"/>
<line x1="766" y1="143.5" x2="783.2" y2="143.5" stroke="#232d8c" stroke-width="3.2"/>
<text x="792.6" y="145.8" font-size="17.25" font-family="Liberation Sans, sans-serif" stroke="#000" stroke-width="0.22">CD3/HER2 (scFv)<tspan font-size='11.8' dy='4.9'>2</tspan></text>
<text x="537.6" y="427.5" font-size="17" letter-spacing="-0.45" text-anchor="end" font-family="Liberation Sans, sans-serif" stroke="#000" stroke-width="0.22">(scFv)</text>
<text x="538.6" y="432.6" font-size="11.6" font-family="Liberation Sans, sans-serif" stroke="#000" stroke-width="0.22">2</text>
<text x="540.5" y="453.2" font-size="17" text-anchor="end" font-family="Liberation Sans, sans-serif" stroke="#000" stroke-width="0.22">FynomAbs</text>
<text x="540.5" y="473" font-size="17" text-anchor="end" font-family="Liberation Sans, sans-serif" stroke="#000" stroke-width="0.22">mAb</text>
<text x="663.5" y="448" font-size="17" font-family="Liberation Sans, sans-serif" stroke="#000" stroke-width="0.22">i.v. bolus</text>
<path d="M562.60,429.80V420.20" stroke="#000" stroke-width="2.2" stroke-linecap="round"/>
<path d="M559.00,421.80L562.60,415.20L566.20,421.80Z" fill="#000"/>
<path d="M570.00,429.80V420.20" stroke="#000" stroke-width="2.2" stroke-linecap="round"/>
<path d="M566.40,421.80L570.00,415.20L573.60,421.80Z" fill="#000"/>
<path d="M577.40,429.80V420.20" stroke="#000" stroke-width="2.2" stroke-linecap="round"/>
<path d="M573.80,421.80L577.40,415.20L581.00,421.80Z" fill="#000"/>
<path d="M584.80,429.80V420.20" stroke="#000" stroke-width="2.2" stroke-linecap="round"/>
<path d="M581.20,421.80L584.80,415.20L588.40,421.80Z" fill="#000"/>
<path d="M592.20,429.80V420.20" stroke="#000" stroke-width="2.2" stroke-linecap="round"/>
<path d="M588.60,421.80L592.20,415.20L595.80,421.80Z" fill="#000"/>
<path d="M599.60,429.80V420.20" stroke="#000" stroke-width="2.2" stroke-linecap="round"/>
<path d="M596.00,421.80L599.60,415.20L603.20,421.80Z" fill="#000"/>
<path d="M607.00,429.80V420.20" stroke="#000" stroke-width="2.2" stroke-linecap="round"/>
<path d="M603.40,421.80L607.00,415.20L610.60,421.80Z" fill="#000"/>
<path d="M614.40,429.80V420.20" stroke="#000" stroke-width="2.2" stroke-linecap="round"/>
<path d="M610.80,421.80L614.40,415.20L618.00,421.80Z" fill="#000"/>
<path d="M621.80,429.80V420.20" stroke="#000" stroke-width="2.2" stroke-linecap="round"/>
<path d="M618.20,421.80L621.80,415.20L625.40,421.80Z" fill="#000"/>
<path d="M629.20,429.80V420.20" stroke="#000" stroke-width="2.2" stroke-linecap="round"/>
<path d="M625.60,421.80L629.20,415.20L632.80,421.80Z" fill="#000"/>
<path d="M636.60,429.80V420.20" stroke="#000" stroke-width="2.2" stroke-linecap="round"/>
<path d="M633.00,421.80L636.60,415.20L640.20,421.80Z" fill="#000"/>
<path d="M644.00,429.80V420.20" stroke="#000" stroke-width="2.2" stroke-linecap="round"/>
<path d="M640.40,421.80L644.00,415.20L647.60,421.80Z" fill="#000"/>
<path d="M562.64,466.20V456.80" stroke="#000" stroke-width="2.2" stroke-linecap="round"/>
<path d="M559.04,458.40L562.64,451.80L566.24,458.40Z" fill="#000"/>
<path d="M585.25,466.20V456.80" stroke="#000" stroke-width="2.2" stroke-linecap="round"/>
<path d="M581.65,458.40L585.25,451.80L588.85,458.40Z" fill="#000"/>
<path d="M607.87,466.20V456.80" stroke="#000" stroke-width="2.2" stroke-linecap="round"/>
<path d="M604.27,458.40L607.87,451.80L611.47,458.40Z" fill="#000"/>
<path d="M630.48,466.20V456.80" stroke="#000" stroke-width="2.2" stroke-linecap="round"/>
<path d="M626.88,458.40L630.48,451.80L634.08,458.40Z" fill="#000"/></svg>
<div class="clip"></div>
</body></html>
